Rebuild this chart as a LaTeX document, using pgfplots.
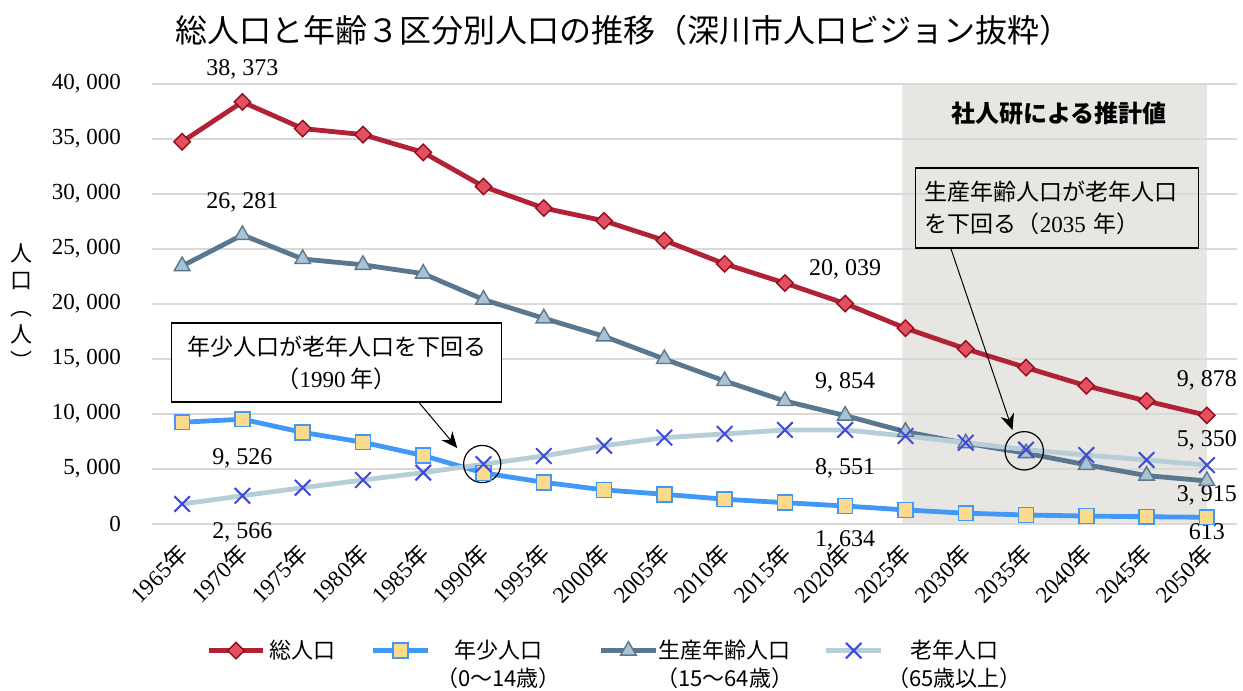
\documentclass[border=0pt]{standalone}
\usepackage{fontspec}
\setmainfont{Liberation Serif}
\newfontfamily\cjk{Noto Sans CJK JP}
\usepackage{pgfplots}
\pgfplotsset{compat=1.18}
\usetikzlibrary{arrows.meta}
\definecolor{totline}{HTML}{B22237}
\definecolor{totfill}{HTML}{E4505F}
\definecolor{totdark}{HTML}{8C0F1E}
\definecolor{chline}{HTML}{4298F7}
\definecolor{chfill}{HTML}{FADA8C}
\definecolor{wkline}{HTML}{5A7790}
\definecolor{wkfill}{HTML}{A9C3D3}
\definecolor{odline}{HTML}{B7CDD8}
\definecolor{odmark}{HTML}{3F4BD0}
\definecolor{shadec}{HTML}{E8E6E2}
\definecolor{gridc}{HTML}{D9D9D9}
\begin{document}
\begin{tikzpicture}
\begin{axis}[
  set layers,
  at={(0,0)}, anchor=south west,
  scale only axis, width=542.5pt, height=220pt,
  xmin=-0.5, xmax=17.5, ymin=0, ymax=40000,
  clip=false,
  scaled y ticks=false,
  axis line style={draw=none},
  major tick length=0pt,
  ymajorgrids, grid style={draw=gridc, line width=0.75pt},
  xtick={0,...,17},
  xticklabels={{1965\cjk{年}},{1970\cjk{年}},{1975\cjk{年}},{1980\cjk{年}},{1985\cjk{年}},{1990\cjk{年}},{1995\cjk{年}},{2000\cjk{年}},{2005\cjk{年}},{2010\cjk{年}},{2015\cjk{年}},{2020\cjk{年}},{2025\cjk{年}},{2030\cjk{年}},{2035\cjk{年}},{2040\cjk{年}},{2045\cjk{年}},{2050\cjk{年}}},
  xticklabel style={rotate=45, anchor=north east, xshift=-7.3pt, yshift=-2.9pt, inner sep=1pt, font=\fontsize{11.5}{14}\selectfont},
  ytick={0,5000,10000,15000,20000,25000,30000,35000,40000},
  yticklabels={0,{5, 000},{10, 000},{15, 000},{20, 000},{25, 000},{30, 000},{35, 000},{40, 000}},
  yticklabel style={font=\fontsize{11.5}{13}\selectfont, xshift=-12pt},
  ylabel={人\\口\\︵\\人\\︶},
  ylabel style={rotate=-90, align=center, font=\cjk\fontsize{11}{13.5}\selectfont, at={(axis description cs:-0.12,0.493)}, anchor=center},
  title={\cjk 総人口と年齢３区分別人口の推移（深川市人口ビジョン抜粋）},
  title style={at={(axis description cs:0.435,1.095)}, anchor=center, font=\fontsize{16}{18}\selectfont},
  legend columns=4,
  legend style={at={(axis description cs:0.4277,-0.243)}, anchor=north, draw=none, fill=none,
    font=\cjk\fontsize{11}{14}\selectfont,
    /tikz/every even column/.append style={column sep=3pt},
    /tikz/every odd column/.append style={column sep=0pt}},
  legend cell align=center,
  legend image code/.code={\draw[mark repeat=2,mark phase=2] plot coordinates {(0cm,0cm) (0.48cm,0cm) (0.96cm,0cm)};},
]
\addplot[fill=shadec, draw=none, on layer=axis background, forget plot] coordinates {(11.95,0) (11.95,40000) (17,40000) (17,0)} \closedcycle;

\addplot[color=totline, line width=2.4pt, mark=square*, mark size=2.9pt,
  mark options={rotate=45, fill=totfill, draw=totdark, line width=0.7pt, solid}]
 coordinates {(0,34750) (1,38373) (2,35950) (3,35400) (4,33780) (5,30680) (6,28720) (7,27560) (8,25780) (9,23650) (10,21900) (11,20039) (12,17800) (13,15920) (14,14220) (15,12560) (16,11180) (17,9878)};
\addlegendentry{総人口\hspace*{12.5pt}}

\addplot[color=chline, line width=2.4pt, mark=square*, mark size=3.7pt,
  mark options={fill=chfill, draw=chline, line width=0.8pt, solid}]
 coordinates {(0,9250) (1,9526) (2,8330) (3,7430) (4,6220) (5,4640) (6,3790) (7,3100) (8,2700) (9,2250) (10,1940) (11,1634) (12,1280) (13,980) (14,820) (15,720) (16,660) (17,613)};
\addlegendentry{\hspace*{1pt}\begin{tabular}[t]{@{}c@{}}年少人口\\（0〜14歳）\end{tabular}\hspace*{14pt}}

\addplot[color=wkline, line width=2.4pt, mark=triangle*, mark size=4.5pt,
  mark options={fill=wkfill, draw=wkline, line width=0.7pt, solid}]
 coordinates {(0,23450) (1,26281) (2,24090) (3,23560) (4,22760) (5,20400) (6,18700) (7,17060) (8,15000) (9,13000) (10,11180) (11,9854) (12,8390) (13,7340) (14,6440) (15,5380) (16,4400) (17,3915)};
\addlegendentry{\hspace*{-3pt}\begin{tabular}[t]{@{}c@{}}生産年齢人口\\（15〜64歳）\end{tabular}\hspace*{10.5pt}}

\addplot[color=odline, line width=2.4pt, mark=x, mark size=5.5pt,
  mark options={draw=odmark, line width=1pt, solid}]
 coordinates {(0,1820) (1,2566) (2,3300) (3,4000) (4,4670) (5,5440) (6,6180) (7,7120) (8,7850) (9,8190) (10,8550) (11,8551) (12,8000) (13,7390) (14,6760) (15,6270) (16,5820) (17,5350)};
\addlegendentry{\begin{tabular}[t]{@{}c@{}}老年人口\\（65歳以上）\end{tabular}}

% data labels
\begin{scope}[font=\fontsize{12}{14}\selectfont]
\node at (axis cs:1,38373) [yshift=16.5pt] {38, 373};
\node at (axis cs:1,26281) [yshift=16.5pt] {26, 281};
\node at (axis cs:1,9526) [yshift=-19.5pt] {9, 526};
\node at (axis cs:1,2566) [yshift=-18.5pt] {2, 566};
\node at (axis cs:11,20039) [yshift=17pt] {20, 039};
\node at (axis cs:11,9854) [yshift=16.5pt] {9, 854};
\node at (axis cs:11,8551) [yshift=-19pt] {8, 551};
\node at (axis cs:11,1634) [yshift=-17pt] {1, 634};
\node at (axis cs:17,9878) [yshift=17.5pt] {9, 878};
\node at (axis cs:17,5350) [yshift=12.5pt] {5, 350};
\node at (axis cs:17,3915) [yshift=-7pt] {3, 915};
\node at (axis cs:17,613) [yshift=-7pt] {613};
\end{scope}

\node[font=\cjk\bfseries\fontsize{12}{14}\selectfont] at (axis cs:14.55,37360) {社人研による推計値};

% annotation 1
\node[draw=black, fill=white, line width=0.6pt, minimum width=165pt, minimum height=39.5pt, align=center,
  font=\cjk\fontsize{11.5}{16}\selectfont, inner sep=2pt] at (axis cs:2.563,14680)
  {年少人口が老年人口を下回る\\（\textrm{1990} 年）};
\draw[-{Stealth[length=8pt,width=7pt]}, line width=0.5pt] (axis cs:3.936,10999) -- (axis cs:4.564,6908);
\draw[line width=0.6pt] (axis cs:4.978,5454) circle[radius=9.3pt];

% annotation 2
\node[draw=black, line width=0.6pt, minimum width=141.5pt, minimum height=40pt, align=left, text width=132pt,
  font=\cjk\fontsize{11.5}{16}\selectfont, inner sep=4.5pt] at (axis cs:14.51,28724)
  {生産年齢人口が老年人口\\を下回る（\textrm{2035} 年）};
\draw[-{Stealth[length=8pt,width=7pt]}, line width=0.5pt] (axis cs:12.75,25088) -- (axis cs:13.775,8545);
\draw[line width=0.6pt] (axis cs:13.97,6654) circle[radius=9.6pt];
\end{axis}
\pgfresetboundingbox
\useasboundingbox (-76pt,-83.5pt) rectangle (545.5pt,262pt);
\end{tikzpicture}
\end{document}
